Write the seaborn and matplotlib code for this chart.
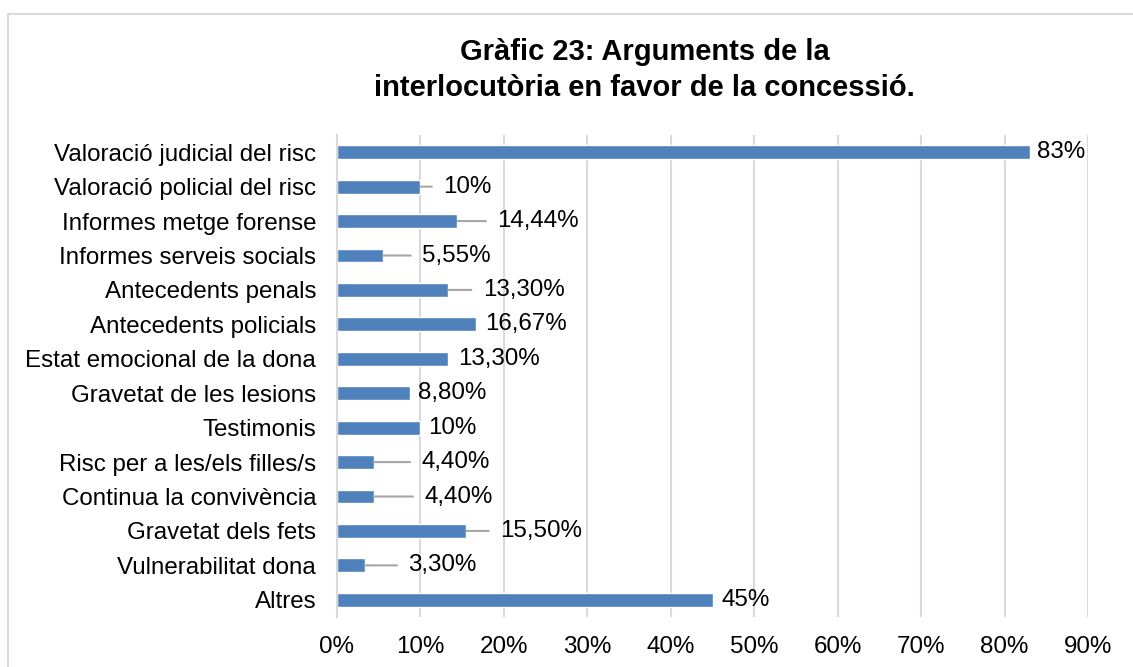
import matplotlib
matplotlib.use('Agg')
import pandas as pd
import seaborn as sns
import matplotlib.pyplot as plt
from matplotlib.patches import Rectangle

# Chart data
categories = [
    'Valoració judicial del risc', 'Valoració policial del risc',
    'Informes metge forense', 'Informes serveis socials',
    'Antecedents penals', 'Antecedents policials',
    'Estat emocional de la dona', 'Gravetat de les lesions',
    'Testimonis', 'Risc per a les/els filles/s',
    'Continua la convivència', 'Gravetat dels fets',
    'Vulnerabilitat dona', 'Altres',
]
values = [0.83, 0.10, 0.1444, 0.0555, 0.133, 0.1667, 0.133,
          0.088, 0.10, 0.044, 0.044, 0.155, 0.033, 0.45]
value_labels = ['83%', '10%', '14,44%', '5,55%', '13,30%', '16,67%', '13,30%',
                '8,80%', '10%', '4,40%', '4,40%', '15,50%', '3,30%', '45%']
tick_values = [0, 0.1, 0.2, 0.3, 0.4, 0.5, 0.6, 0.7, 0.8, 0.9]
tick_labels = ['0%', '10%', '20%', '30%', '40%', '50%', '60%', '70%', '80%', '90%']
# how far each data label was dragged from its bar end (pixels)
label_offsets = [7, 23, 40, 39, 35, 9, 10, 8, 8, 48, 51, 34, 44, 9]

df = pd.DataFrame({'categoria': categories, 'valor': values})

sns.set_style('white')
plt.rcParams['font.family'] = ['Liberation Sans', 'DejaVu Sans']
plt.rcParams['text.color'] = 'black'
plt.rcParams['xtick.color'] = 'black'
plt.rcParams['ytick.color'] = 'black'

fs = 17.4

fig = plt.figure(figsize=(11.33, 6.67), dpi=100)
ax = fig.add_axes([337 / 1133, 50 / 667, 751 / 1133, 482 / 667])

sns.barplot(data=df, x='valor', y='categoria', orient='h', color='#4F81BD',
            saturation=1, width=0.4, ax=ax)

ax.set_xlim(0, 0.9)
ax.set_ylim(13.5, -0.5)
ax.set_xticks(tick_values)
ax.set_xticklabels(tick_labels, fontsize=fs)
ax.tick_params(axis='y', labelsize=fs, length=0, pad=15)
ax.tick_params(axis='x', length=0, pad=14)
ax.set_xlabel('')
ax.set_ylabel('')
ax.grid(axis='x', color='#D9D9D9', linewidth=1.5)
ax.set_axisbelow(True)
for side in ['top', 'right', 'bottom']:
    ax.spines[side].set_visible(False)
ax.spines['left'].set_color('#D9D9D9')
ax.spines['left'].set_linewidth(1.5)

# data labels with leader lines
for i, (v, lab, off) in enumerate(zip(values, value_labels, label_offsets)):
    props = None
    if off > 15:
        props = dict(arrowstyle='-', color='#A6A6A6', lw=1.5,
                     shrinkA=6, shrinkB=0, relpos=(0, 0.5))
    ax.annotate(lab, xy=(v, i), xytext=(off, 0), textcoords='offset pixels',
                ha='left', va='center', fontsize=fs, color='black',
                arrowprops=props)

fig.text(0.569, 0.895, 'Gràfic 23: Arguments de la\ninterlocutòria en favor de la concessió.',
         ha='center', va='center', fontsize=21, fontweight='bold',
         linespacing=1.35, color='black')

# chart border
fig.patches.append(Rectangle((8 / 1133, -0.1), 1.2, (653 / 667) + 0.1,
                             transform=fig.transFigure, fill=False,
                             edgecolor='#D9D9D9', linewidth=1.5))

fig.savefig('out.png', dpi=100)
